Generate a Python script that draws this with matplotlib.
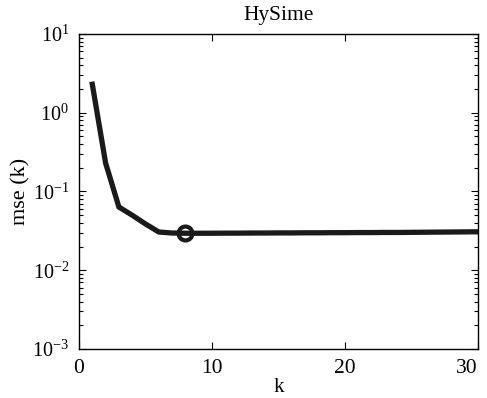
import math
import matplotlib
matplotlib.use("Agg")
import matplotlib.pyplot as plt
from matplotlib.ticker import FixedLocator, FuncFormatter, LogLocator, NullFormatter

plt.rcParams['font.family'] = ['Liberation Serif', 'DejaVu Serif']
plt.rcParams['mathtext.fontset'] = 'custom'
plt.rcParams['mathtext.rm'] = 'Liberation Serif'

k = list(range(1, 31))
mse = [2.3, 0.23, 0.0635, 0.050, 0.0387, 0.0306, 0.0297, 0.0295, 0.0295, 0.0295,
       0.0296, 0.0296, 0.0297, 0.0297, 0.0298, 0.0298, 0.0299, 0.0299, 0.0300, 0.0300,
       0.0301, 0.0301, 0.0302, 0.0302, 0.0303, 0.0304, 0.0305, 0.0306, 0.0307, 0.0308]
k_min = 8
mse_min = 0.0295

fig = plt.figure(figsize=(4.87, 3.98), dpi=100)
ax = fig.add_axes([79/487, 1 - 349/398, (478-79)/487, (349-34)/398])
ax.semilogy(k, mse, color='#1a1a1a', lw=3.8, solid_joinstyle='miter')
ax.plot([k_min], [mse_min], marker='o', ms=10, mfc='none', mec='#1a1a1a', mew=3.0)
ax.set_xlim(0, 30)
ax.set_ylim(1e-3, 1e1)
ax.xaxis.set_major_locator(FixedLocator([0, 10, 20, 30]))
ax.yaxis.set_major_locator(LogLocator(base=10, numticks=10))
ax.yaxis.set_minor_locator(LogLocator(base=10, subs=range(2, 10), numticks=10))
ax.yaxis.set_minor_formatter(NullFormatter())
ax.yaxis.set_major_formatter(FuncFormatter(lambda v, p: r'$\mathregular{10^{%d}}$' % round(math.log10(v))))
ax.tick_params(axis='y', which='both', labelsize=14.5)
ax.tick_params(axis='x', which='both', labelsize=15.5)
ax.tick_params(which='both', direction='in', top=True, right=True, width=0.8)
ax.tick_params(which='major', length=5, pad=7)
ax.tick_params(which='minor', length=3)
for s in ax.spines.values():
    s.set_linewidth(1.0)
ax.set_title('HySime', fontsize=15.5, pad=10)
ax.set_xlabel('k', fontsize=15, labelpad=0)
ax.set_ylabel('mse (k)', fontsize=16)
ax.yaxis.set_label_coords(-0.121, 0.5)
fig.canvas.draw()
ax.get_xticklabels()[-1].set_horizontalalignment('right')
fig.savefig('out.png', dpi=100)
